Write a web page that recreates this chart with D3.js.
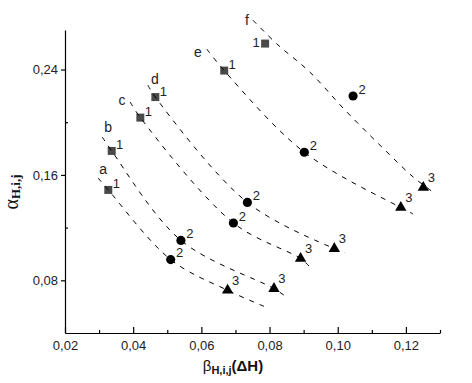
<!DOCTYPE html>
<html>
<head>
<meta charset="utf-8">
<script src="https://cdn.jsdelivr.net/npm/d3@7"></script>
<style>
  body { margin: 0; background: #fff; }
  svg { display: block; font-family: Arial, "Liberation Sans", sans-serif; }
  .axis text { font-size: 13px; fill: #222; }
  .axis line, .axis path { stroke: #000; stroke-width: 1.2; }
</style>
</head>
<body>
<svg id="chart" width="472" height="383"></svg>
<script>
// series letters
const series = ["a", "b", "c", "d", "e", "f"];

// point 1 / 2 / 3 of every series (x = beta, y = alpha)
const x1 = [0.0327, 0.0337, 0.0421, 0.0465, 0.0667, 0.0787];
const y1 = [0.1486, 0.1782, 0.2035, 0.2191, 0.2392, 0.2597];
const x2 = [0.0510, 0.0540, 0.0694, 0.0735, 0.0902, 0.1045];
const y2 = [0.0957, 0.1103, 0.1235, 0.1391, 0.1772, 0.2199];
const x3 = [0.0677, 0.0813, 0.0891, 0.0990, 0.1185, 0.1251];
const y3 = [0.0724, 0.0737, 0.0965, 0.1040, 0.1352, 0.1504];

// dashed fit curves
const fitA = [[0.0297, 0.1577], [0.0327, 0.1486], [0.0510, 0.0957], [0.0677, 0.0724], [0.0787, 0.0599]];
const fitB = [[0.0309, 0.1888], [0.0337, 0.1782], [0.0540, 0.1103], [0.0813, 0.0737], [0.0845, 0.0682]];
const fitC = [[0.0391, 0.2154], [0.0421, 0.2035], [0.0694, 0.1235], [0.0891, 0.0965], [0.0918, 0.0902]];
const fitD = [[0.0443, 0.2282], [0.0465, 0.2191], [0.0735, 0.1391], [0.0990, 0.1040], [0.1021, 0.1009]];
const fitE = [[0.0616, 0.2555], [0.0667, 0.2392], [0.0902, 0.1772], [0.1185, 0.1352], [0.1221, 0.1304]];
const fitF = [[0.0751, 0.2775], [0.0822, 0.2593], [0.0918, 0.2381], [0.1021, 0.2093], [0.1138, 0.1790], [0.1221, 0.1585], [0.1279, 0.1471]];
const fits = [fitA, fitB, fitC, fitD, fitE, fitF];

// axis ticks
const xMajor = [0.02, 0.04, 0.06, 0.08, 0.10, 0.12];
const xMinor = [0.03, 0.05, 0.07, 0.09, 0.11, 0.13];
const yMajor = [0.08, 0.16, 0.24];
const yMinor = [0.12, 0.20];

// layout (pixel offsets for the letter labels)
const letterOff = [[5, -9], [6, -10], [-8, -2], [7, -6], [-9, 3], [-6, 0]];

const svg = d3.select("#chart");

const x = d3.scaleLinear().domain([0.02, 0.13]).range([65, 440]);
const y = d3.scaleLinear().domain([0.04, 0.27]).range([333, 30]);

const fmt = v => d3.format(".2f")(v).replace(".", ",");

// axes
const gx = svg.append("g").attr("class", "axis").attr("transform", "translate(0,333)");
gx.call(d3.axisBottom(x).tickValues(xMajor).tickSize(-6).tickSizeOuter(0).tickPadding(8).tickFormat(fmt));
svg.append("g").attr("class", "axis").attr("transform", "translate(0,333)")
  .call(d3.axisBottom(x).tickValues(xMinor).tickSize(-3).tickSizeOuter(0).tickFormat(""))
  .select(".domain").remove();

const gy = svg.append("g").attr("class", "axis").attr("transform", "translate(65,0)");
gy.call(d3.axisLeft(y).tickValues(yMajor).tickSize(4).tickSizeOuter(0).tickPadding(3).tickFormat(fmt));
svg.append("g").attr("class", "axis").attr("transform", "translate(65,0)")
  .call(d3.axisLeft(y).tickValues(yMinor).tickSize(-3).tickSizeOuter(0).tickFormat(""))
  .select(".domain").remove();

// markers
const plot = svg.append("g");
const sym = (type, size) => d3.symbol().type(type).size(size);

plot.selectAll("path.p1").data(series).join("path")
  .attr("class", "p1")
  .attr("transform", (d, i) => `translate(${x(x1[i])},${y(y1[i])})`)
  .attr("d", sym(d3.symbolSquare, 64)())
  .attr("fill", "#4a4a4a");

plot.selectAll("path.p2").data(series).join("path")
  .attr("class", "p2")
  .attr("transform", (d, i) => `translate(${x(x2[i])},${y(y2[i])})`)
  .attr("d", sym(d3.symbolCircle, 66)())
  .attr("fill", "#000");

plot.selectAll("path.p3").data(series).join("path")
  .attr("class", "p3")
  .attr("transform", (d, i) => `translate(${x(x3[i])},${y(y3[i])})`)
  .attr("d", sym(d3.symbolTriangle, 56)())
  .attr("fill", "#000");

// dashed fit lines (drawn over the squares, as in the original)
const line = d3.line().x(d => x(d[0])).y(d => y(d[1])).curve(d3.curveCatmullRom);
plot.selectAll("path.fit").data(fits).join("path")
  .attr("class", "fit")
  .attr("d", line)
  .attr("fill", "none")
  .attr("stroke", "#000")
  .attr("stroke-width", 1)
  .attr("stroke-dasharray", "5,6");

// point number labels
const num = (xs, ys, txt, dx, dy) => {
  plot.selectAll(null).data(series).join("text")
    .attr("x", (d, i) => x(xs[i]) + (typeof dx === "function" ? dx(i) : dx))
    .attr("y", (d, i) => y(ys[i]) + (typeof dy === "function" ? dy(i) : dy))
    .attr("text-anchor", "middle")
    .attr("dy", "0.35em")
    .attr("font-size", 13)
    .attr("fill", "#222")
    .text(txt);
};
num(x1, y1, "1", i => (i === 5 ? -9 : 8), i => (i === 5 ? -1 : -6));
num(x2, y2, "2", 9, -7);
num(x3, y3, "3", 8, -10);

// series letters
plot.selectAll("text.letter").data(series).join("text")
  .attr("class", "letter")
  .attr("x", (d, i) => x(fits[i][0][0]) + letterOff[i][0])
  .attr("y", (d, i) => y(fits[i][0][1]) + letterOff[i][1])
  .attr("text-anchor", "middle")
  .attr("dy", "0.35em")
  .attr("font-size", 14)
  .attr("fill", "#222")
  .text(d => d);

// axis titles
const yt = svg.append("text")
  .attr("transform", "translate(18,192) rotate(-90)")
  .attr("text-anchor", "middle")
  .attr("font-family", "'Liberation Serif', 'Times New Roman', serif")
  .attr("fill", "#111");
yt.append("tspan").attr("font-size", 20).text("α");
yt.append("tspan").attr("font-size", 13).attr("font-weight", "bold").attr("dy", 2).text("H,i,j");

const xt = svg.append("text")
  .attr("x", 233)
  .attr("y", 371)
  .attr("text-anchor", "middle")
  .attr("fill", "#111");
xt.append("tspan").attr("font-size", 15).text("β");
xt.append("tspan").attr("font-size", 11).attr("font-weight", "bold").attr("dy", 3).text("H,i,j");
xt.append("tspan").attr("font-size", 15).attr("font-weight", "bold").attr("dy", -3).text("(ΔH)");
</script>
</body>
</html>
